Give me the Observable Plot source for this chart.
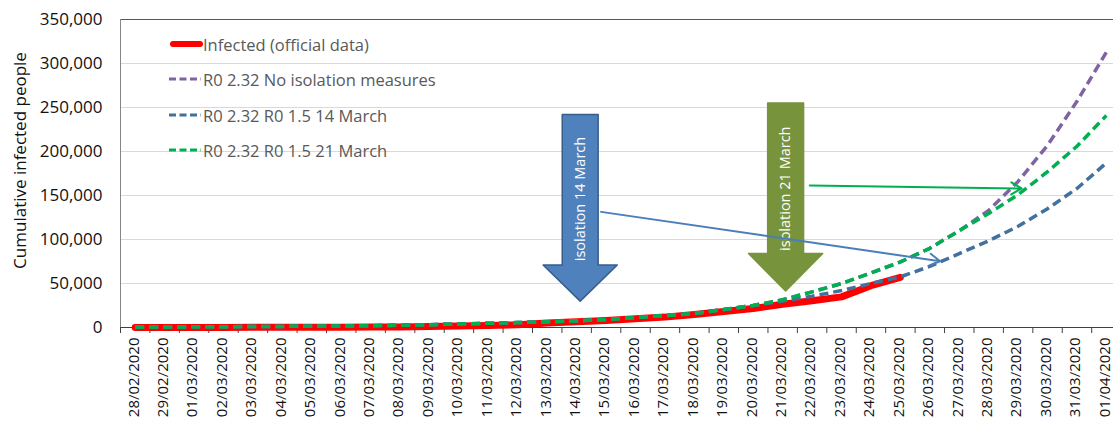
<!DOCTYPE html>
<html>
<head>
<meta charset="utf-8">
<script src="https://cdn.jsdelivr.net/npm/d3@7"></script>
<script src="https://cdn.jsdelivr.net/npm/@observablehq/plot@0.6"></script>
<style>
  html, body { margin: 0; padding: 0; background: #fff; }
  #wrap { position: relative; width: 1113px; height: 421px; overflow: hidden; font-family: "Open Sans", sans-serif; }
  .leg { position: absolute; left: 0; top: 0; }
  .leg-row { position: absolute; display: flex; align-items: center; white-space: nowrap; font-size: 16.5px; color: #595959; }
</style>
</head>
<body>
<div id="wrap"></div>
<script>
// ---- data ----
const dates = ["28/02/2020","29/02/2020","01/03/2020","02/03/2020","03/03/2020","04/03/2020","05/03/2020","06/03/2020","07/03/2020","08/03/2020","09/03/2020","10/03/2020","11/03/2020","12/03/2020","13/03/2020","14/03/2020","15/03/2020","16/03/2020","17/03/2020","18/03/2020","19/03/2020","20/03/2020","21/03/2020","22/03/2020","23/03/2020","24/03/2020","25/03/2020","26/03/2020","27/03/2020","28/03/2020","29/03/2020","30/03/2020","31/03/2020","01/04/2020"];
const official = [30,45,85,120,165,220,260,400,500,670,1070,1700,2280,3150,5200,6400,8000,9900,11800,14800,18100,21600,26500,30300,34800,47500,57000];
const noIsolation = [500,600,750,900,1050,1250,1450,1700,2000,2500,3200,4000,4800,5600,6400,7600,9100,11300,13600,16000,20500,25000,31500,40500,50000,62000,74500,90000,110000,133000,166000,207000,257000,313000];
const iso14March = [500,600,750,900,1050,1250,1450,1700,2000,2500,3200,4000,4800,5600,6400,7600,9100,11300,13600,16000,20500,25000,30000,35500,42000,50000,57500,69500,84000,98500,115000,135000,158000,187000];
const iso21March = [500,600,750,900,1050,1250,1450,1700,2000,2500,3200,4000,4800,5600,6400,7600,9100,11300,13600,16000,20500,25000,31500,40500,50000,62000,74500,90000,110000,129500,151000,177000,206000,241000];
const yTicks = [0,50000,100000,150000,200000,250000,300000,350000];
const seriesNames = ["Infected (official data)","R0 2.32 No isolation measures","R0 2.32 R0 1.5 14 March","R0 2.32 R0 1.5 21 March"];
const seriesColors = ["#ff0000","#8064a2","#41719c","#00b050"];
const yTitle = "Cumulative infected people";

// annotations (in data units: x = day index, y = people)
const blockArrows = [
  {label: "isolation 14 March", at: 15.12, top: 242000, neck: 71000, tip: 30000, textY: 146000, fill: "#4f81bd", stroke: "#385d8a"},
  {label: "isolation 21 March", at: 22.1, top: 255000, neck: 84000, tip: 41600, textY: 157700, fill: "#77933c", stroke: "#77933c"}
];
const pointerArrows = [
  {x1: 15.83, y1: 131400, x2: 27.35, y2: 75300, color: "#4a7ebb"},
  {x1: 22.92, y1: 161400, x2: 30.12, y2: 158000, color: "#00b050"}
];

// ---- build ----
const toRows = (arr) => arr.map((v, i) => ({i, v}));
const idx = d3.range(dates.length);
const bounds = d3.range(dates.length + 1).map(k => k - 0.5);

const shaftHalf = 0.61, headHalf = 1.26;
const arrowPoly = (a) => [
  {x: a.at - shaftHalf, y: a.top}, {x: a.at + shaftHalf, y: a.top},
  {x: a.at + shaftHalf, y: a.neck}, {x: a.at + headHalf, y: a.neck},
  {x: a.at, y: a.tip},
  {x: a.at - headHalf, y: a.neck}, {x: a.at - shaftHalf, y: a.neck}
];

const dash = {strokeWidth: 3.5, strokeDasharray: "9,5", strokeLinecap: "butt"};

const chart = Plot.plot({
  width: 1113,
  height: 421,
  marginTop: 19,
  marginBottom: 94,
  marginLeft: 120,
  marginRight: 0,
  style: {fontFamily: "Open Sans, sans-serif", background: "white"},
  x: {type: "linear", domain: [-0.5, dates.length - 0.5], range: [120, 120 + 29.43 * dates.length]},
  y: {domain: [0, 350000]},
  marks: [
    Plot.gridY(yTicks.filter(t => t > 0 && t < 350000), {stroke: "#d9d9d9", strokeOpacity: 1}),
    Plot.ruleY([350000], {stroke: "#595959"}),
    Plot.axisY({ticks: yTicks, tickFormat: d3.format(","), tickSize: 0, tickPadding: 18, fontSize: 17, fill: "#111", label: null}),
    Plot.text([yTitle], {frameAnchor: "left", dx: -100, dy: -13, rotate: -90, textAnchor: "middle", fontSize: 17, fill: "#111"}),
    Plot.axisX({ticks: idx, tickFormat: i => dates[i], tickRotate: -90, tickSize: 0, tickPadding: 10, dx: -1.5, fontSize: 15, fill: "#111", label: null}),
    Plot.axisX({ticks: bounds, tickFormat: () => "", tickSize: 6, stroke: "#404040", label: null}),
    Plot.ruleY([0], {stroke: "#404040"}),
    Plot.ruleX([-0.5], {stroke: "#868686"}),
    // block arrows
    ...blockArrows.map(a => Plot.line(arrowPoly(a), {x: "x", y: "y", curve: "linear-closed", fill: a.fill, stroke: a.stroke, strokeWidth: 1.5})),
    Plot.text(blockArrows, {x: "at", y: "textY", text: "label", rotate: -90, fill: "white", fontSize: 14.5}),
    // data lines
    Plot.line(toRows(official), {x: "i", y: "v", stroke: seriesColors[0], strokeWidth: 7, strokeLinejoin: "round"}),
    Plot.line(toRows(noIsolation), {x: "i", y: "v", stroke: seriesColors[1], ...dash}),
    Plot.line(toRows(iso14March), {x: "i", y: "v", stroke: seriesColors[2], ...dash}),
    Plot.line(toRows(iso21March), {x: "i", y: "v", stroke: seriesColors[3], ...dash}),
    // pointer arrows
    Plot.arrow(pointerArrows, {x1: "x1", y1: "y1", x2: "x2", y2: "y2", stroke: "color", strokeWidth: 2, headLength: 9})
  ]
});

const wrap = document.getElementById("wrap");
wrap.appendChild(chart);

// legend overlay
const leg = document.createElement("div");
leg.className = "leg";
const rowY = [44, 79, 115, 150];
seriesNames.forEach((name, k) => {
  const row = document.createElement("div");
  row.className = "leg-row";
  row.style.left = "168px";
  row.style.top = (rowY[k] - 11) + "px";
  row.style.height = "22px";
  const solid = k === 0;
  row.innerHTML = `<svg width="35" height="22" style="display:block">
    <line x1="${solid ? 5 : 1}" x2="${solid ? 32 : 33}" y1="11" y2="11" stroke="${seriesColors[k]}"
      stroke-width="${solid ? 6 : 3}" stroke-linecap="${solid ? "round" : "butt"}" ${solid ? "" : 'stroke-dasharray="7,3.5"'}/></svg><span>${name}</span>`;
  leg.appendChild(row);
});
wrap.appendChild(leg);
</script>
</body>
</html>
